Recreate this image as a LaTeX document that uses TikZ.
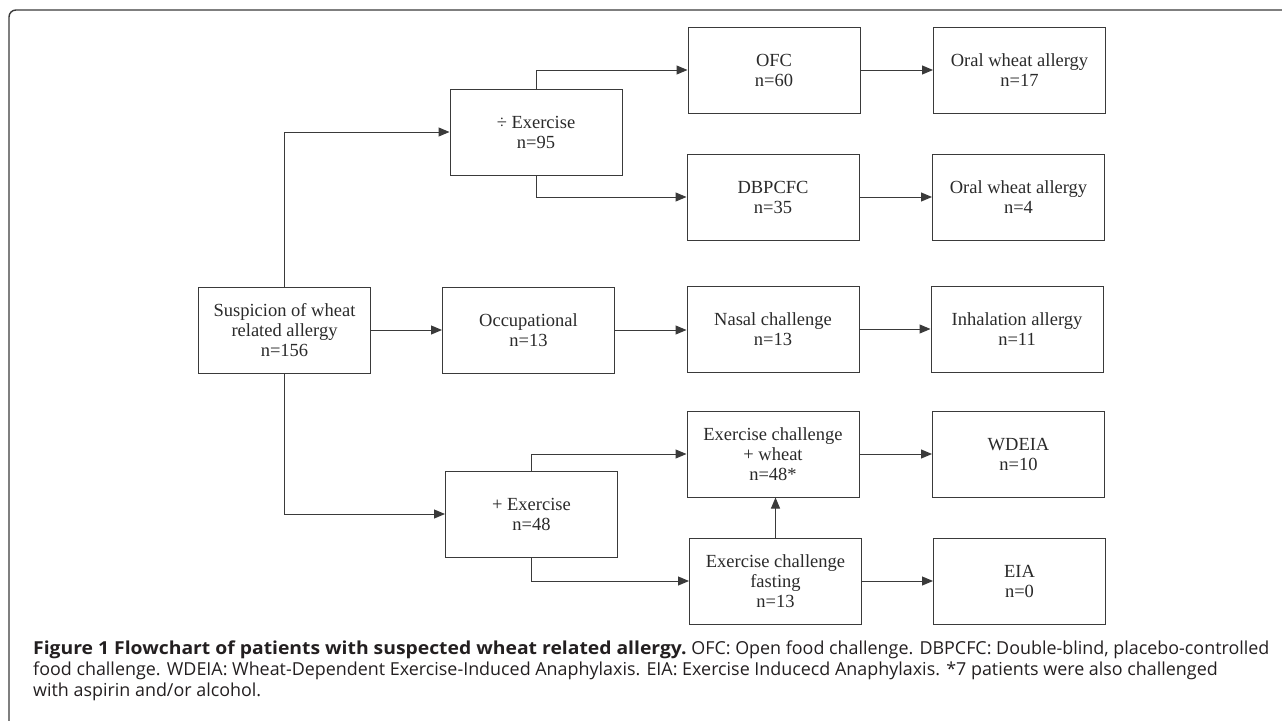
\documentclass[tikz,border=0pt]{standalone}
\usepackage{fontspec}
\usepackage{graphicx}
\setmainfont{Liberation Serif}
\newfontfamily\capfont{Open Sans}
\usetikzlibrary{arrows.meta}
\definecolor{linec}{HTML}{3A3A3A}
\definecolor{textc}{HTML}{2A2A2A}
\definecolor{capc}{HTML}{231F20}
\tikzset{
  box/.style={draw=linec, line width=1pt, rectangle, minimum width=172pt, minimum height=86pt,
    align=center, inner sep=0pt, text=textc, font=\fontsize{18.5}{20}\selectfont},
  conn/.style={draw=linec, line width=1pt, -{Triangle[length=11pt,width=9pt]}},
  capline/.style={anchor=west, inner sep=0pt, text=capc, font=\capfont\fontsize{17.9}{21}\selectfont}
}
\begin{document}
\begin{tikzpicture}[x=1pt,y=-1pt]
\useasboundingbox (0,0) rectangle (1282,720);
\draw[linec, line width=1.4pt, rounded corners=7pt] (9,740) -- (9,10) -- (1300,10);

\node[box] (sus) at (284.5,330) {Suspicion of wheat\\related allergy\\n=156};
\node[box] (nex) at (536,132) {÷ Exercise\\n=95};
\node[box] (occ) at (528.5,330) {Occupational\\n=13};
\node[box] (pex) at (531.5,514) {+ Exercise\\n=48};
\node[box] (ofc) at (774,70) {OFC\\n=60};
\node[box] (dbp) at (773,197) {DBPCFC\\n=35};
\node[box] (nas) at (773,329) {Nasal challenge\\n=13};
\node[box] (exw) at (773,454) {Exercise challenge\\+ wheat\\n=48*};
\node[box] (exf) at (775.5,581) {Exercise challenge\\fasting\\n=13};
\node[box] (ow1) at (1019.5,70) {Oral wheat allergy\\n=17};
\node[box] (ow2) at (1018.5,197) {Oral wheat allergy\\n=4};
\node[box] (inh) at (1017,329) {Inhalation allergy\\n=11};
\node[box] (wde) at (1018.5,454) {WDEIA\\n=10};
\node[box] (eia) at (1019.5,581) {EIA\\n=0};

\draw[conn] (sus.north) |- (nex.west);
\draw[conn] (sus.east) -- (occ.west);
\draw[conn] (sus.south) |- (pex.west);
\draw[conn] (nex.north) |- (ofc.west);
\draw[conn] (nex.south) |- (dbp.west);
\draw[conn] (ofc.east) -- (ow1.west);
\draw[conn] (dbp.east) -- (ow2.west);
\draw[conn] (occ.east) -- (nas.west |- occ.east);
\draw[conn] (nas.east) -- (inh.west);
\draw[conn] (pex.north) |- (exw.west);
\draw[conn] (pex.south) |- (exf.west);
\draw[conn] (exw.east) -- (wde.west);
\draw[conn] (exf.east) -- (eia.west);
\draw[conn] (exf.north) -- (exf.north |- exw.south);

\node[capline] (c1) at (33,650) {\scalebox{1.08}[1]{\textbf{Figure 1 Flowchart of patients with suspected wheat related allergy.}} OFC: Open food challenge. DBPCFC: Double-blind, placebo-controlled};
\node[capline] (c2) at (33,671) {food challenge. WDEIA: Wheat-Dependent Exercise-Induced Anaphylaxis. EIA: Exercise Inducecd Anaphylaxis. *7 patients were also challenged};
\node[capline] (c3) at (33,692) {with aspirin and/or alcohol.};
\end{tikzpicture}
\end{document}
